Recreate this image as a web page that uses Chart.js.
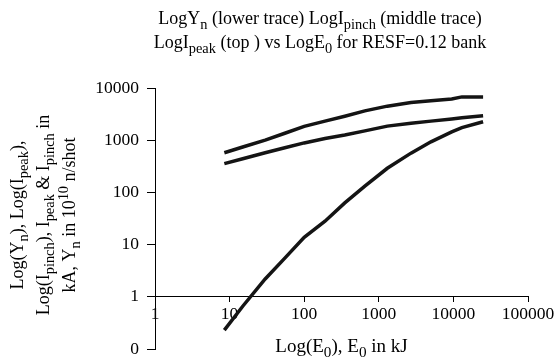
<!DOCTYPE html>
<html>
<head>
<meta charset="utf-8">
<script src="https://cdn.jsdelivr.net/npm/chart.js@4"></script>
<style>
  html, body { margin: 0; padding: 0; background: #fff; }
  #wrap { width: 558px; height: 359px; }
</style>
</head>
<body>
<div id="wrap"><canvas id="plasmaChart"></canvas></div>
<script>
// E0 in kJ (shared x values for the three traces)
const energyKJ = [8.5, 15, 30, 55, 100, 190, 350, 650, 1300, 2700, 5000, 9500, 13000, 25000];
// top trace: I_peak (kA)
const iPeak = [575, 740, 1000, 1360, 1840, 2320, 2880, 3650, 4490, 5280, 5700, 6170, 6760, 6760];
// middle trace: I_pinch (kA)
const iPinch = [355, 442, 575, 716, 887, 1080, 1260, 1510, 1860, 2110, 2320, 2560, 2690, 2950];
// lower trace: Y_n (10^10 n/shot)
const yieldN = [0.23, 0.66, 2.2, 5.5, 13.8, 28, 63, 132, 290, 565, 930, 1440, 1740, 2260];

const xTicks = [1, 10, 100, 1000, 10000, 100000];
const yTicks = [0.1, 1, 10, 100, 1000, 10000];
const yTickLabels = ['0', '1', '10', '100', '1000', '10000'];

const FONT = 'Liberation Serif, Times New Roman, serif';
const FS = 18;      // titles
const TICK_FS = 17.5;

// draws a line of text made of [text, mode] parts, mode = 'sub' | 'sup' | undefined
function drawRich(ctx, parts, x, y, size) {
    const small = size * 0.8;
    const widths = parts.map(p => {
        ctx.font = (p[1] ? small : size) + 'px ' + FONT;
        return ctx.measureText(p[0]).width;
    });
    const total = widths.reduce((a, b) => a + b, 0);
    let cx = x - total / 2;
    ctx.textAlign = 'left';
    ctx.textBaseline = 'alphabetic';
    parts.forEach((p, i) => {
        let dy = 0;
        if (p[1] === 'sub') dy = size * 0.28;
        if (p[1] === 'sup') dy = -size * 0.4;
        ctx.font = (p[1] ? small : size) + 'px ' + FONT;
        ctx.fillText(p[0], cx, y + dy);
        cx += widths[i];
    });
}

const titleLines = [
    [['LogY'], ['n', 'sub'], [' (lower trace) LogI'], ['pinch', 'sub'], [' (middle trace)']],
    [['LogI'], ['peak', 'sub'], [' (top ) vs LogE'], ['0', 'sub'], [' for RESF=0.12 bank']]
];
const yTitleLines = [
    [['Log(Y'], ['n', 'sub'], ['), Log(I'], ['peak', 'sub'], ['),']],
    [['Log(I'], ['pinch', 'sub'], ['), I'], ['peak', 'sub'], [' & I'], ['pinch', 'sub'], [' in']],
    [['kA, Y'], ['n', 'sub'], [' in 10'], ['10', 'sup'], [' n/shot']]
];
const xTitle = [['Log(E'], ['0', 'sub'], ['), E'], ['0', 'sub'], [' in kJ']];

const textPlugin = {
    id: 'richText',
    afterDraw(chart) {
        const ctx = chart.ctx;
        const area = chart.chartArea;
        ctx.save();
        ctx.fillStyle = '#000';
        drawRich(ctx, titleLines[0], 320, 24, FS);
        drawRich(ctx, titleLines[1], 320, 48, FS);
        drawRich(ctx, xTitle, (area.left + area.right) / 2, 352, 19);
        const cy = 215;
        [23, 49, 75].forEach((bx, i) => {
            ctx.save();
            ctx.translate(bx, cy);
            ctx.rotate(-Math.PI / 2);
            drawRich(ctx, yTitleLines[i], 0, 0, FS);
            ctx.restore();
        });
        ctx.restore();
    }
};

function makeSet(label, values) {
    return {
        label: label,
        data: energyKJ.map((e, i) => ({ x: e, y: values[i] })),
        borderColor: '#141414',
        borderWidth: 3.5,
        pointRadius: 0,
        showLine: true,
        tension: 0,
        fill: false
    };
}

new Chart(document.getElementById('plasmaChart'), {
    type: 'scatter',
    data: {
        datasets: [
            makeSet('LogIpeak', iPeak),
            makeSet('LogIpinch', iPinch),
            makeSet('LogYn', yieldN)
        ]
    },
    options: {
        responsive: true,
        maintainAspectRatio: false,
        animation: false,
        layout: { padding: { top: 88, bottom: 10, left: 0, right: 30 } },
        plugins: {
            legend: { display: false },
            tooltip: { enabled: false }
        },
        scales: {
            x: {
                type: 'logarithmic',
                min: 1,
                max: 100000,
                position: { y: 1 },
                afterFit: s => { s.height = 0; },
                afterBuildTicks: s => { s.ticks = xTicks.map(v => ({ value: v })); },
                ticks: {
                    autoSkip: false,
                    maxRotation: 0,
                    padding: 2,
                    color: '#000',
                    font: { family: FONT, size: TICK_FS },
                    callback: v => String(v)
                },
                grid: { drawOnChartArea: false, drawTicks: true, tickLength: 5, color: '#000' },
                border: { display: true, color: '#000', width: 1 }
            },
            y: {
                type: 'logarithmic',
                min: 0.1,
                max: 10000,
                position: 'left',
                afterFit: s => { s.width = 155; s.paddingTop = 0; s.paddingBottom = 0; },
                afterBuildTicks: s => { s.ticks = yTicks.map(v => ({ value: v })); },
                ticks: {
                    autoSkip: false,
                    padding: 8,
                    color: '#000',
                    font: { family: FONT, size: TICK_FS },
                    callback: v => yTickLabels[yTicks.indexOf(v)]
                },
                grid: { drawOnChartArea: false, drawTicks: true, tickLength: 8, color: '#000' },
                border: { display: true, color: '#000', width: 1 }
            }
        }
    },
    plugins: [textPlugin]
});
</script>
</body>
</html>
